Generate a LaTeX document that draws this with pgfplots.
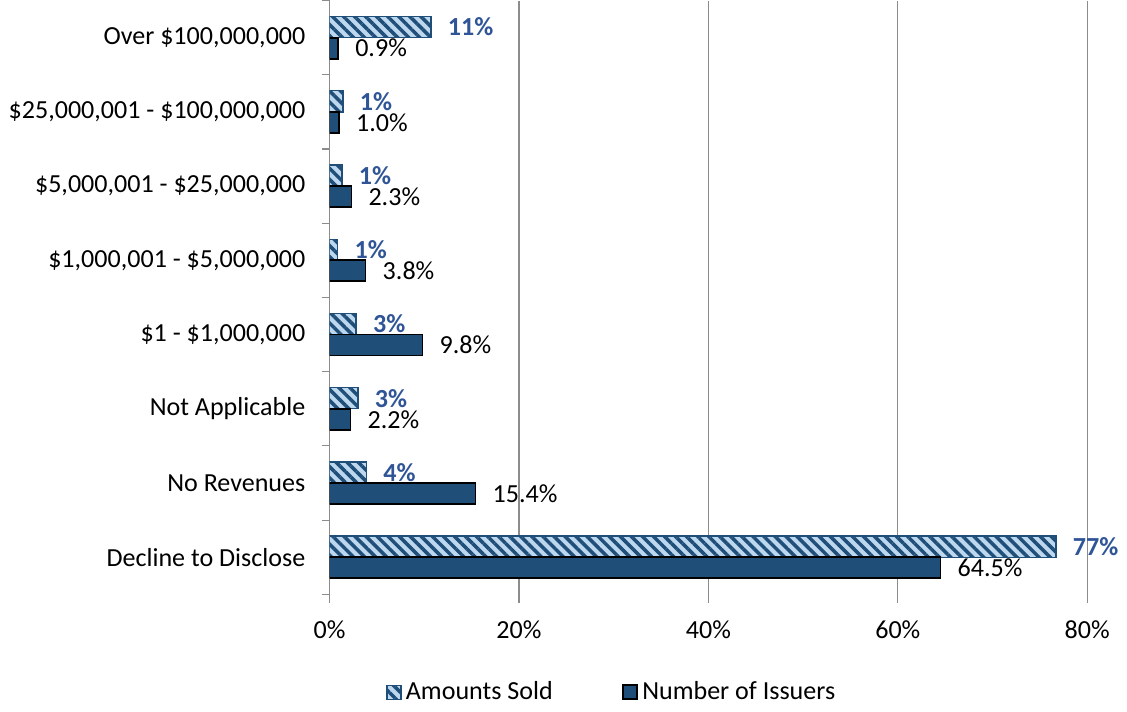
\documentclass[12pt,border=0pt]{standalone}
\usepackage{fontspec}
\setmainfont{Carlito}
\usepackage{pgfplots}
\pgfplotsset{compat=1.18}
\usetikzlibrary{patterns.meta}
\definecolor{darkblue}{RGB}{31,78,121}
\definecolor{lightblue}{RGB}{189,215,238}
\definecolor{labelblue}{RGB}{47,85,151}
\definecolor{gridgray}{RGB}{140,140,140}

\begin{document}
\begin{tikzpicture}
\begin{axis}[
    scale only axis,
    width=349pt,
    height=273.5pt,
    xbar,
    bar width=9.7pt,
    xmin=0, xmax=80,
    ymin=-0.5, ymax=7.5,
    xtick={0,20,40,60,80},
    xticklabels={0\%,20\%,40\%,60\%,80\%},
    ytick={0,1,2,3,4,5,6,7},
    yticklabels={{Decline to Disclose},{No Revenues},{Not Applicable},{\$1 - \$1,000,000},{\$1,000,001 - \$5,000,000},{\$5,000,001 - \$25,000,000},{\$25,000,001 - \$100,000,000},{Over \$100,000,000}},
    minor ytick={-0.5,0.5,...,7.5},
    axis x line*=bottom,
    axis y line*=left,
    x axis line style={draw=none},
    y axis line style={gridgray, line width=0.5pt},
    xmajorgrids,
    grid style={gridgray, line width=0.5pt},
    tick align=outside,
    major tick length=4pt,
    minor tick length=3.5pt,
    major y tick style={draw=none},
    minor y tick style={gridgray, line width=0.5pt},
    major x tick style={gridgray, line width=0.5pt},
    xticklabel style={yshift=-4pt},
    yticklabel style={xshift=-3pt},
    /pgf/number format/assume math mode=true,
    point meta=explicit symbolic,
    nodes near coords,
    legend columns=2,
    legend style={at={(0.374,-0.165)}, anchor=center, draw=none,
        /tikz/every even column/.append style={column sep=30pt}},
    legend image code/.code={\draw[#1] (0pt,-3.2pt) rectangle (6.4pt,3.2pt);},
]
\addplot [draw=darkblue, line width=0.6pt, fill=lightblue,
    postaction={pattern={Lines[angle=-45, distance=3.6pt, line width=1.6pt]}, pattern color=darkblue},
    bar shift=4.85pt,
    nodes near coords style={anchor=west, xshift=3.5pt, text=labelblue, font=\bfseries}]
coordinates {
    (10.7,7) [11\%]
    (1.4,6) [1\%]
    (1.3,5) [1\%]
    (0.85,4) [1\%]
    (2.8,3) [3\%]
    (3.0,2) [3\%]
    (3.9,1) [4\%]
    (76.7,0) [77\%]
};
\addlegendentry{Amounts Sold}

\addplot [draw=black, line width=0.8pt, fill=darkblue,
    bar shift=-4.85pt,
    nodes near coords style={anchor=west, xshift=3.5pt, text=black}]
coordinates {
    (0.9,7) [0.9\%]
    (1.0,6) [1.0\%]
    (2.3,5) [2.3\%]
    (3.8,4) [3.8\%]
    (9.8,3) [9.8\%]
    (2.2,2) [2.2\%]
    (15.4,1) [15.4\%]
    (64.5,0) [64.5\%]
};
\addlegendentry{Number of Issuers}
\end{axis}
\end{tikzpicture}
\end{document}
